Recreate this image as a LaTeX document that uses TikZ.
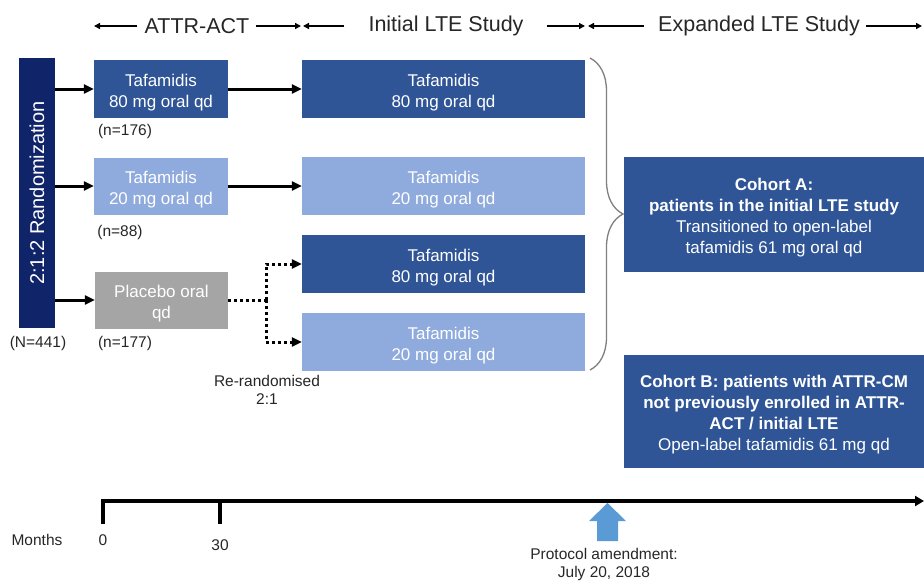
\documentclass[tikz,border=0pt]{standalone}
\usepackage{fontspec}
\setmainfont{Liberation Sans}
\usetikzlibrary{arrows.meta,decorations.pathreplacing}
\definecolor{navy}{HTML}{10246A}
\definecolor{dblue}{HTML}{2F5597}
\definecolor{lblue}{HTML}{8FAADC}
\definecolor{pgray}{HTML}{A5A5A5}
\definecolor{bgray}{HTML}{7F7F7F}
\definecolor{ablue}{HTML}{5B9BD5}
\definecolor{txt}{HTML}{262626}
\newcommand{\topst}{\rule{0pt}{19pt}}
\tikzset{
  box/.style={inner sep=0pt, align=center, text=white, font=\fontsize{17}{21}\selectfont},
  small/.style={inner sep=0pt, text=txt, font=\fontsize{15.5}{18}\selectfont, align=center},
  head/.style={inner sep=0pt, text=txt, font=\fontsize{21.5}{24}\selectfont},
  conn/.style={line width=3pt, -{Triangle[length=10pt,width=9pt]}},
  dotconn/.style={line width=3pt, dash pattern=on 3pt off 3pt, -{Triangle[length=10pt,width=9pt]}},
  hdarrow/.style={line width=1.5pt, -{Triangle[length=6pt,width=6pt]}},
}
\begin{document}
\begin{tikzpicture}[x=1pt,y=-1pt]
\useasboundingbox (0,0) rectangle (924,581);

% header
\node[head] (hA) at (197,26) {ATTR-ACT};
\node[head] (hB) at (446,26) {Initial LTE Study};
\node[head] (hC) at (759,26) {Expanded LTE Study};
\coordinate (a1) at (94,26); \coordinate (a2) at (301,26);
\coordinate (b1) at (303,26); \coordinate (b2) at (585,26);
\coordinate (c1) at (588,26); \coordinate (c2) at (922,26);
\draw[hdarrow] (hA.west) ++(-7,0) -- (a1);
\draw[hdarrow] (hA.east) ++(6,0) -- (a2);
\draw[hdarrow] (hB.west) ++(-24,0) -- (b1);
\draw[hdarrow] (hB.east) ++(23,0) -- (b2);
\draw[hdarrow] (hC.west) ++(-14,0) -- (c1);
\draw[hdarrow] (hC.east) ++(6,0) -- (c2);

% randomization bar
\node[fill=navy, inner sep=0pt, minimum width=36pt, minimum height=270pt] (rand) at (37,193) {};
\node[inner sep=0pt, text=white, rotate=90, font=\fontsize{20}{24}\selectfont] (randt) at (37,193) {2:1:2 Randomization};
\node[small] (N) at (38,343) {(N=441)};

% ATTR-ACT boxes
\node[box, fill=dblue, minimum width=134pt, minimum height=58pt] (t80) at (161,89) {\topst Tafamidis\\80 mg oral qd};
\node[box, fill=lblue, minimum width=134pt, minimum height=57pt] (t20) at (161,186) {\topst Tafamidis\\20 mg oral qd};
\node[box, fill=pgray, minimum width=133pt, minimum height=57pt] (pl) at (161.5,300) {\topst Placebo oral\\qd};
\node[small] (n1) at (125,131) {(n=176)};
\node[small] (n2) at (120,232) {(n=88)};
\node[small] (n3) at (125,343) {(n=177)};

% LTE boxes
\node[box, fill=dblue, minimum width=283pt, minimum height=58pt] (l1) at (443.5,89) {\topst Tafamidis\\80 mg oral qd};
\node[box, fill=lblue, minimum width=283pt, minimum height=58pt] (l2) at (443.5,186) {\topst Tafamidis\\20 mg oral qd};
\node[box, fill=dblue, minimum width=283pt, minimum height=58pt] (l3) at (443.5,264) {\topst Tafamidis\\80 mg oral qd};
\node[box, fill=lblue, minimum width=283pt, minimum height=58pt] (l4) at (443.5,342) {\topst Tafamidis\\20 mg oral qd};

% arrows
\draw[conn] (rand.east |- t80) -- (t80.west);
\draw[conn] (rand.east |- t20) -- (t20.west);
\draw[conn] (rand.east |- pl) -- (pl.west);
\draw[conn] (t80.east) -- (l1.west);
\draw[conn] (t20.east) -- (l2.west);
\coordinate (sp) at (266,300);
\draw[line width=3pt, dash pattern=on 3pt off 3pt] (pl.east) -- (sp);
\draw[dotconn] (sp) |- (l3.west);
\draw[dotconn] (sp) |- (l4.west);
\node[small] (rr) at (267,390) {Re-randomised\\2:1};

% brace
\coordinate (br1) at (590,58);
\coordinate (br2) at (590,370);
\draw[bgray, line width=1.3pt, decorate, decoration={brace, amplitude=33pt}] (br1) -- (br2);

% cohorts
\node[box, fill=dblue, minimum width=300pt, minimum height=115pt] (cA) at (774,214.5)
  {\topst\textbf{Cohort A:}\\\textbf{patients in the initial LTE study}\\Transitioned to open-label\\tafamidis 61 mg oral qd};
\node[box, fill=dblue, minimum width=300pt, minimum height=113pt] (cB) at (774,411.5)
  {\topst\textbf{Cohort B: patients with ATTR-CM}\\\textbf{not previously enrolled in ATTR-}\\\textbf{ACT / initial LTE}\\Open-label tafamidis 61 mg qd};

% timeline
\coordinate (t0b) at (103,524);
\coordinate (t0) at (103,501);
\coordinate (tend) at (924,501);
\coordinate (t30) at (220,501);
\coordinate (t30b) at (220,524);
\draw[line width=4pt, -{Triangle[length=9pt,width=10pt]}] (t0b) -- (t0) -- (tend);
\draw[line width=3.5pt] (t30) -- (t30b);
\node[small] (mo) at (37,540) {Months};
\node[small] (m0) at (103,540) {0};
\node[small] (m30) at (220,545) {30};
\fill[ablue] (597,541) -- (618,541) -- (618,521) -- (626,521) -- (607.5,503) -- (589,521) -- (597,521) -- cycle;
\node[small] (pa) at (604,564) {Protocol amendment:\\July 20, 2018};
\end{tikzpicture}
\end{document}
